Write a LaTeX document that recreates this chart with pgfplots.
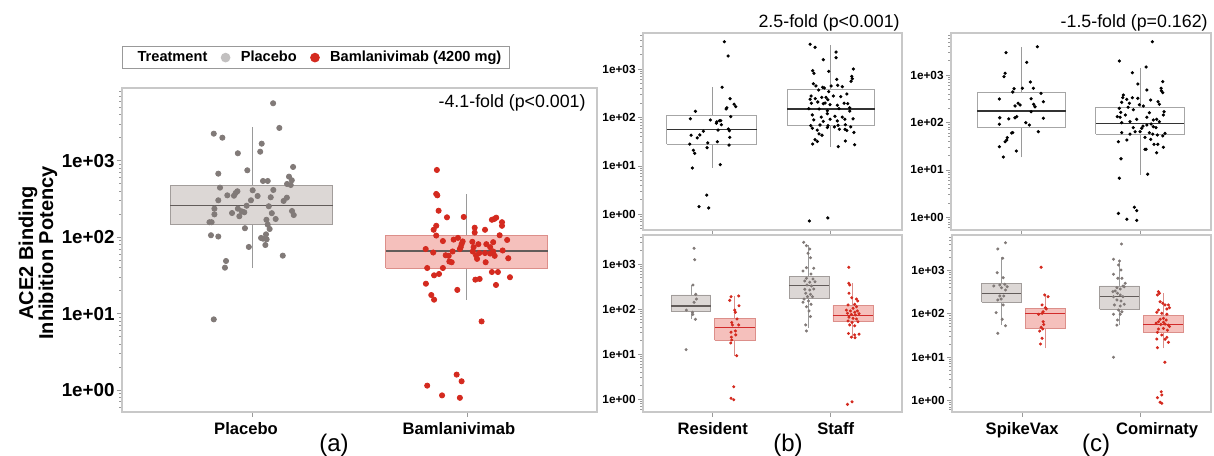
\documentclass[border=0pt]{standalone}
\usepackage{fontspec}
\setmainfont{Liberation Sans}
\usepackage{pgfplots}
\pgfplotsset{compat=1.18}

\definecolor{frame}{HTML}{C8C8C8}
\definecolor{tickc}{HTML}{9A9A9A}
\definecolor{pPt}{HTML}{817A78}
\definecolor{pFill}{HTML}{DCD7D5}
\definecolor{pEdge}{HTML}{A29D9B}
\definecolor{pMed}{HTML}{625C5A}
\definecolor{rPt}{HTML}{D42A1F}
\definecolor{rFill}{HTML}{F5C0BC}
\definecolor{rEdge}{HTML}{DC8F8A}
\definecolor{rMed}{HTML}{D22B2B}
\definecolor{legGrey}{HTML}{C2C0C0}

\pgfplotsset{
  every axis/.append style={scale only axis, anchor=south west,
    axis line style={draw=frame, line width=0.6pt},
    tick style={draw=tickc, line width=0.4pt},
    tick align=outside, xtick pos=bottom, ytick pos=left,
    major tick length=2.5pt, minor tick length=1.4pt,
    xtick={0,1}, ytick={1,10,100,1000},
    yticklabels={1e+00,1e+01,1e+02,1e+03},
    minor ytick={0.5,0.6,0.7,0.8,0.9,2,3,4,5,6,7,8,9,20,30,40,50,60,70,80,90,200,300,400,500,600,700,800,900,2000,3000,4000,5000,6000,7000,8000,9000},
    yticklabel style={font=\bfseries\fontsize{5.9}{6}\selectfont, inner xsep=1pt},
    xticklabel style={font=\bfseries\fontsize{8.3}{9}\selectfont, yshift=1pt},
  },
  % box styles: P = placebo (a), R = bamlanivimab (a), W = white top panels,
  % G = grey lower panels, S = red lower panels
  whiskP/.style={draw=tickc, line width=0.5pt},
  boxP/.style={draw=pEdge, fill=pFill, line width=0.5pt},
  medP/.style={draw=pMed, line width=0.9pt},
  whiskR/.style={draw=tickc, line width=0.5pt},
  boxR/.style={draw=rEdge, fill=rFill, line width=0.5pt},
  medR/.style={draw=pMed, line width=0.9pt},
  whiskW/.style={draw=tickc, line width=0.5pt},
  boxW/.style={draw=gray!70, fill=white, line width=0.5pt},
  medW/.style={draw=black!80, line width=0.6pt},
  whiskG/.style={draw=tickc, line width=0.4pt},
  boxG/.style={draw=pEdge, fill=pFill, line width=0.4pt},
  medG/.style={draw=pMed, line width=0.6pt},
  whiskS/.style={draw=rEdge, line width=0.4pt},
  boxS/.style={draw=rEdge, fill=rFill, line width=0.4pt},
  medS/.style={draw=rMed, line width=0.6pt},
}

% x1 x2 xc q1 med q3 lo hi style
\newcommand{\bxp}[9]{%
  \addplot[whisk#9] coordinates {(#3,#7) (#3,#8)};
  \addplot[box#9] coordinates {(#1,#4) (#2,#4) (#2,#6) (#1,#6) (#1,#4)};
  \addplot[med#9] coordinates {(#1,#5) (#2,#5)};
}

\begin{document}
\begin{tikzpicture}
\useasboundingbox (0,0) rectangle (607pt,227.5pt);

% ---------------- (a) ----------------
\begin{axis}[ymode=log, at={(61pt,21.5pt)}, width=237.5pt, height=162pt,
  xmin=-0.605, xmax=1.605, ymin=0.515, ymax=8970,
  xticklabels={\hspace*{-6pt}Placebo,\hspace*{-8pt}Bamlanivimab},
  yticklabel style={font=\bfseries\fontsize{9.4}{10}\selectfont},
  legend columns=-1,
  legend style={at={(0,1)}, anchor=south west, yshift=9.5pt,
    draw=gray!80, line width=0.6pt, inner xsep=2pt, inner ysep=0pt,
    font=\bfseries\fontsize{7.3}{8}\selectfont,
    /tikz/every odd column/.append style={column sep=3.5pt},
    /tikz/every even column/.append style={column sep=5pt}},
]
\addlegendimage{empty legend}\addlegendentry{Treatment}
\addlegendimage{only marks, mark=*, mark size=2.1pt, draw=legGrey, fill=legGrey}\addlegendentry{Placebo}
\addlegendimage{only marks, mark=*, mark size=2.1pt, draw=rPt, fill=rPt}\addlegendentry{Bamlanivimab (4200 mg)}

\bxp{-0.38}{0.375}{0}{147}{260}{475}{39.5}{2730}{P}
\bxp{0.623}{1.375}{1}{39.2}{65.4}{104.6}{15.1}{368}{R}

\addplot[only marks, mark=*, mark size=1.3pt, color=pPt] coordinates {
(0.098,5660) (0.127,2690) (-0.178,2264) (-0.138,2005) (0.045,1675) (0.038,1315)
(-0.066,1254) (0.191,830) (-0.022,751) (-0.157,678) (0.172,620) (0.051,544)
(0.073,544) (0.185,556) (0.163,497) (0.180,482) (-0.149,445) (0.099,415)
(0.003,411) (-0.068,399) (-0.076,379) (-0.115,353) (-0.084,349) (0.026,346)
(0.087,333) (0.162,329) (-0.157,304) (-0.005,304) (0.147,298) (-0.025,258)
(0.078,254) (-0.175,236) (-0.066,236) (-0.048,218) (-0.036,212) (-0.093,207)
(0.092,206) (0.186,220) (-0.175,199) (0.194,195) (-0.059,188) (0.067,169)
(0.110,173) (-0.198,157) (-0.188,157) (0.073,146) (-0.033,131) (0.082,128)
(0.065,109) (-0.191,106) (-0.157,102) (0.042,97.7) (0.068,93.8) (0.051,95.6)
(0.062,79) (-0.015,74.5) (0.143,57.3) (-0.121,48.8) (-0.126,39.9) (-0.178,8.4)};
\addplot[only marks, mark=*, mark size=1.3pt, color=rPt] coordinates {
(0.860,758) (0.857,368) (0.862,353) (0.868,222) (0.907,182) (0.985,184)
(0.857,141) (0.845,125) (1.036,133) (1.036,115) (1.084,125) (1.116,169)
(1.127,173) (1.136,180) (1.163,157) (1.163,141) (0.857,105) (1.152,106)
(0.888,89) (0.938,93) (0.958,98) (0.980,88) (0.975,81) (0.971,74) (0.967,70)
(1.025,87) (1.053,81) (1.031,74) (1.090,81) (1.108,74) (1.122,86) (1.187,92)
(0.808,70) (0.843,63) (0.901,58) (0.915,57) (0.933,65) (1.027,65) (1.042,58)
(1.057,62) (1.084,62) (1.108,61) (1.122,65) (1.129,57) (1.166,67) (1.047,52)
(1.087,47) (0.918,48) (0.929,47) (1.192,53) (0.815,39.5) (0.888,39.5)
(1.116,35) (1.144,35) (0.870,33) (0.847,31.7) (1.200,29.9) (1.039,27.8)
(1.059,28.4) (0.809,24.6) (1.135,23.7) (0.955,20.4) (0.834,17.5) (0.847,15.2)
(1.068,7.9) (0.952,1.59) (0.975,1.30) (0.815,1.14) (0.884,0.85) (0.967,0.79)};
\end{axis}

% ---------------- (b) top ----------------
\begin{axis}[ymode=log, at={(321.5pt,112.5pt)}, width=129.5pt, height=98.5pt,
  xmin=-0.591, xmax=1.604, ymin=0.474, ymax=5570, xticklabels={,}]
\bxp{-0.39}{0.373}{0}{28.3}{57}{109}{9.2}{421}{W}
\bxp{0.63}{1.375}{1}{69}{150}{370}{24.9}{3150}{W}
\addplot[only marks, mark=*, mark size=0.6pt, color=black] coordinates {
(0.098,3680) (0.130,1866) (0.079,421) (0.147,245) (0.181,188) (0.195,167)
(0.113,150) (0.119,159) (-0.147,134) (0.153,104) (-0.190,94) (-0.020,89)
(0.034,81) (0.056,86) (0.068,86) (0.073,71) (0.031,76) (-0.080,52) (0.045,55)
(0.132,58) (0.141,53) (-0.184,43) (-0.110,43.5) (-0.131,38) (0.144,39)
(0.039,31.6) (-0.042,30) (-0.195,28.3) (0.138,27) (-0.048,23.8) (-0.164,21)
(-0.153,18.2) (-0.173,9.05) (0.064,10.6) (-0.051,2.5) (-0.116,1.44) (-0.034,1.35)};
\addplot[only marks, mark=*, mark size=0.6pt, color=black] coordinates {
(0.825,3250) (0.867,2820) (1.045,2250) (1.045,1720) (0.937,1565) (0.847,927)
(0.858,819) (0.983,901) (1.192,1005) (1.178,710) (1.183,634) (1.172,560)
(1.051,615) (0.853,499) (0.875,448) (0.932,421) (0.946,407) (1.003,448)
(1.059,463) (1.098,433) (0.898,370) (0.983,341) (0.825,238) (0.833,278)
(0.869,245) (0.924,261) (0.960,261) (0.975,233) (1.022,278) (1.085,269)
(1.136,306) (0.836,197) (0.890,209) (0.937,193) (0.952,199) (0.994,184)
(1.056,179) (1.113,197) (1.144,193) (0.814,152) (0.901,150) (0.971,138)
(1.070,152) (1.161,159) (1.161,136) (0.844,113) (0.920,102) (0.971,120)
(1.036,106) (1.098,102) (0.856,89) (0.937,83) (0.994,92) (1.056,85) (1.119,92)
(1.189,94) (0.831,68) (0.909,70) (0.977,68) (1.031,64) (1.062,69) (1.124,71)
(1.169,64) (0.844,60) (0.886,55) (0.971,62) (1.073,57) (1.121,57) (1.136,54)
(1.197,49) (0.901,46) (0.926,43) (0.867,35) (0.886,32) (0.847,28.3) (1.064,25)
(1.124,32.7) (1.203,27.4) (0.819,0.73) (0.975,0.84)};
\end{axis}

% ---------------- (b) bottom ----------------
\begin{axis}[ymode=log, at={(321.5pt,21.5pt)}, width=129.5pt, height=88.5pt,
  xmin=-0.591, xmax=1.604, ymin=0.522, ymax=4480,
  xticklabels={Resident,\hspace*{5pt}Staff}]
\bxp{-0.35}{-0.017}{-0.183}{88}{118}{208}{60}{347}{G}
\bxp{0.017}{0.362}{0.186}{20.5}{39}{63}{9.3}{200}{S}
\bxp{0.647}{0.986}{0.814}{176}{334}{530}{38}{2680}{G}
\bxp{1.019}{1.358}{1.186}{54}{73.5}{123}{23.4}{378}{S}
\addplot[only marks, mark=*, mark size=0.55pt, color=pPt] coordinates {
(-0.158,2270) (-0.153,1265) (-0.167,347) (-0.144,215) (-0.138,169) (-0.158,143)
(-0.223,96) (-0.172,86) (-0.169,77) (-0.147,60) (-0.226,12.7)
(0.771,3080) (0.794,2590) (0.822,2190) (0.808,1755) (0.828,1400) (0.794,840)
(0.856,815) (0.765,710) (0.833,608) (0.794,488) (0.850,472) (0.780,425)
(0.822,398) (0.867,410) (0.799,347) (0.836,330) (0.780,278) (0.822,268)
(0.856,282) (0.788,227) (0.828,215) (0.803,191) (0.845,191) (0.774,169)
(0.811,153) (0.765,143) (0.833,129) (0.794,114) (0.816,92) (0.828,69)
(0.788,45) (0.794,33)};
\addplot[only marks, mark=*, mark size=0.55pt, color=rPt] coordinates {
(0.155,191) (0.220,198) (0.144,158) (0.223,120) (0.186,96) (0.192,86)
(0.206,61) (0.161,51) (0.167,45) (0.220,45) (0.192,33) (0.155,31) (0.158,24)
(0.195,27) (0.161,20.8) (0.153,17.8) (0.203,9.3) (0.178,1.9) (0.155,1.05)
(0.178,0.98)
(1.153,858) (1.153,378) (1.161,347) (1.155,227) (1.178,181) (1.218,169)
(1.229,153) (1.147,125) (1.203,129) (1.218,114) (1.189,105) (1.133,96)
(1.167,92) (1.203,86) (1.226,92) (1.142,81.5) (1.175,77) (1.209,75) (1.240,80)
(1.155,67) (1.189,63) (1.218,61) (1.147,55) (1.181,51) (1.231,53) (1.161,45)
(1.203,43) (1.150,29) (1.203,27) (1.240,28) (1.175,24) (1.206,23.4)
(1.142,0.77) (1.181,0.88)};
\end{axis}

% ---------------- (c) top ----------------
\begin{axis}[ymode=log, at={(475.5pt,112.5pt)}, width=130pt, height=98.5pt,
  xmin=-0.598, xmax=1.600, ymin=0.54, ymax=7730, xticklabels={,}]
\bxp{-0.375}{0.374}{0}{76.6}{175}{434}{18.4}{3970}{W}
\bxp{0.626}{1.374}{1}{56}{96}{212}{7.9}{1413}{W}
\addplot[only marks, mark=*, mark size=0.6pt, color=black] coordinates {
(-0.133,2970) (0.132,3970) (0.042,1862) (-0.141,1092) (-0.150,925) (0.073,715)
(0.098,527) (-0.065,517) (0.005,527) (-0.076,440) (0.163,413) (-0.189,313)
(0.079,318) (0.183,275) (-0.031,254) (-0.014,234) (-0.057,223) (0.101,242)
(0.112,215) (0.079,169) (-0.186,126) (-0.110,119) (-0.057,126) (-0.042,133)
(0.183,123) (0.034,99) (-0.189,92) (0.064,88.5) (-0.076,61) (-0.085,60)
(0.140,64) (-0.122,48) (-0.127,42.7) (-0.141,39.3) (-0.189,30.9) (-0.046,25)
(-0.156,18.7)};
\addplot[only marks, mark=*, mark size=0.6pt, color=black] coordinates {
(1.104,5070) (0.825,1983) (0.935,1125) (1.051,1483) (0.981,649) (1.192,726)
(1.178,527) (1.180,469) (1.192,426) (1.057,485) (0.859,380) (0.854,334)
(0.935,334) (0.888,308) (0.981,324) (1.090,298) (0.845,267) (0.910,254)
(0.994,237) (1.028,223) (1.152,275) (1.163,242) (0.825,199) (0.899,209)
(0.943,186) (0.837,164) (0.876,144) (0.808,133) (0.831,129) (1.079,161)
(1.203,169) (1.197,144) (0.972,117) (1.057,129) (0.845,99) (0.915,104)
(1.112,113) (1.141,117) (1.163,104) (1.057,88.5) (1.093,93) (1.025,84)
(0.943,78) (1.014,75.5) (1.112,81.5) (1.135,78) (0.845,61) (0.915,57)
(0.958,64) (1.0,64) (1.079,61) (1.107,57) (1.146,54.5) (1.192,52) (1.211,59)
(1.042,48.7) (1.090,44) (0.888,42.7) (0.817,39.3) (1.118,34.7) (1.150,34.7)
(1.051,27.2) (1.042,27.2) (1.197,30) (1.141,23) (0.839,17.2) (1.065,8.1)
(0.825,6.7) (0.952,1.63) (0.972,1.38) (0.817,1.21) (0.888,0.91) (0.972,0.86)};
\end{axis}

% ---------------- (c) bottom ----------------
\begin{axis}[ymode=log, at={(476pt,21.5pt)}, width=129.5pt, height=88.5pt,
  xmin=-0.594, xmax=1.6, ymin=0.536, ymax=6700,
  xticklabels={SpikeVax,\hspace*{17pt}Comirnaty}]
\bxp{-0.344}{-0.008}{-0.176}{186}{300}{511}{55}{2040}{G}
\bxp{0.028}{0.366}{0.197}{46.4}{103}{135}{16}{274}{S}
\bxp{0.656}{0.994}{0.825}{128}{250}{443}{55}{1770}{G}
\bxp{1.028}{1.366}{1.197}{37.5}{58}{94}{16}{300}{S}
\addplot[only marks, mark=*, mark size=0.55pt, color=pPt] coordinates {
(-0.141,4450) (-0.206,3180) (-0.164,1937) (-0.211,900) (-0.161,688)
(-0.189,467) (-0.147,484) (-0.175,404) (-0.240,443) (-0.127,426) (-0.141,357)
(-0.189,260) (-0.156,260) (-0.178,221) (-0.206,210) (-0.161,161) (-0.220,107)
(-0.169,75) (-0.141,53) (-0.206,35.6)
(0.842,4150) (0.774,1836) (0.825,1677) (0.817,1355) (0.837,1038) (0.774,826)
(0.811,667) (0.845,667) (0.873,511) (0.854,443) (0.803,404) (0.831,377)
(0.865,426) (0.769,327) (0.788,339) (0.808,300) (0.831,274) (0.854,250)
(0.774,250) (0.803,210) (0.837,199) (0.782,161) (0.831,152) (0.865,167)
(0.817,123) (0.845,112) (0.774,98) (0.831,98) (0.808,72) (0.803,55) (0.774,9.9)};
\addplot[only marks, mark=*, mark size=0.55pt, color=rPt] coordinates {
(0.161,1200) (0.191,274) (0.220,250) (0.169,161) (0.197,139) (0.205,130)
(0.178,112) (0.169,103) (0.140,98) (0.178,66) (0.183,57) (0.161,49)
(0.174,44.7) (0.149,40) (0.169,27.2) (0.155,20.1)
(1.155,327) (1.163,300) (1.146,274) (1.169,191) (1.211,161) (1.192,176)
(1.155,123) (1.239,161) (1.248,139) (1.226,130) (1.141,109) (1.183,103)
(1.226,98) (1.169,75) (1.197,79) (1.220,72) (1.155,66) (1.197,64) (1.135,61)
(1.175,57) (1.211,58) (1.239,55) (1.155,44.7) (1.197,46) (1.231,42) (1.248,51)
(1.146,37.5) (1.183,32.5) (1.141,26.2) (1.211,25.8) (1.226,28.7) (1.239,22)
(1.146,16.5) (1.209,7.6) (1.178,1.58) (1.183,1.33) (1.146,1.15) (1.169,0.90)
(1.183,0.85)};
\end{axis}

% ---------------- text ----------------
\node[rotate=90, align=center, font=\bfseries\fontsize{10}{10}\selectfont] at (19pt,101pt) {ACE2 Binding\\Inhibition Potency};
\node[anchor=east, inner sep=0pt, font=\fontsize{8.9}{10}\selectfont] at (293pt,176.2pt) {-4.1-fold (p<0.001)};
\node[anchor=east, inner sep=0pt, font=\fontsize{8.9}{10}\selectfont] at (450pt,216.2pt) {2.5-fold (p<0.001)};
\node[anchor=east, inner sep=0pt, font=\fontsize{8.9}{10}\selectfont] at (604pt,216.2pt) {-1.5-fold (p=0.162)};
\node[font=\fontsize{12}{12}\selectfont] at (167pt,5pt) {(a)};
\node[font=\fontsize{12}{12}\selectfont] at (394pt,5pt) {(b)};
\node[font=\fontsize{12}{12}\selectfont] at (548pt,5pt) {(c)};
\end{tikzpicture}
\end{document}
